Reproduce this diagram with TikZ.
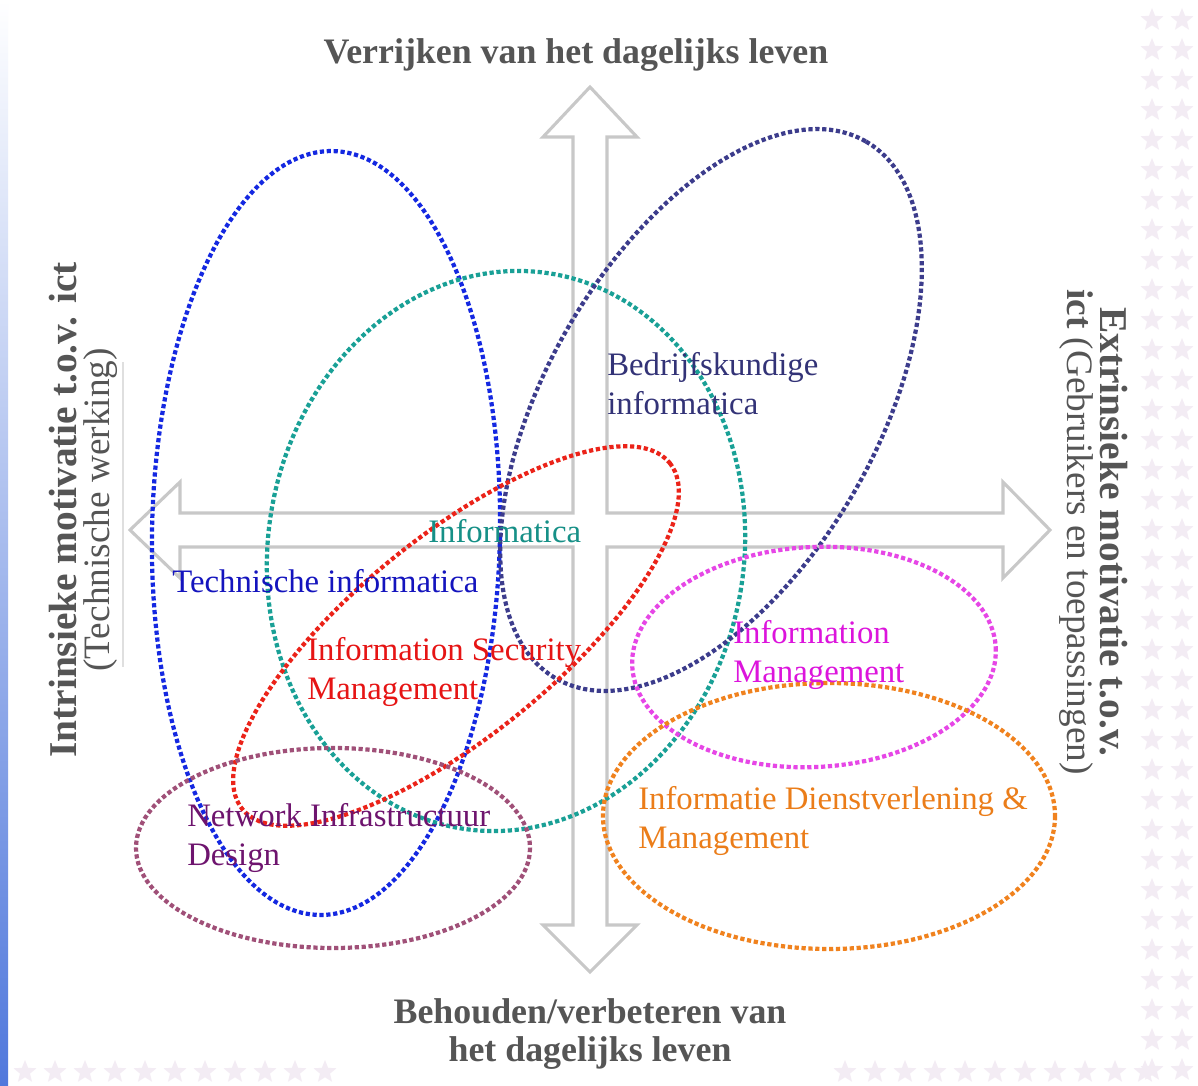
\documentclass[tikz,border=0pt]{standalone}
\usepackage{fontspec}
\setmainfont{Liberation Serif}
\usepackage{tikz}
\usetikzlibrary{positioning,shapes.geometric}

\definecolor{titlegray}{RGB}{85,85,85}
\definecolor{crossgray}{RGB}{200,200,200}
\definecolor{techblue}{RGB}{20,40,225}
\definecolor{infteal}{RGB}{25,160,150}
\definecolor{bedrnavy}{RGB}{60,60,140}
\definecolor{ismred}{RGB}{235,35,25}
\definecolor{immagenta}{RGB}{230,70,230}
\definecolor{idmorange}{RGB}{240,130,30}
\definecolor{nidmaroon}{RGB}{160,80,120}
\definecolor{stripblue}{RGB}{80,120,220}
\definecolor{starpink}{RGB}{243,236,244}

\begin{document}
\begin{tikzpicture}[
  x=0.025cm, y=-0.025cm,
  ring/.style={line width=3pt, dash pattern=on 3pt off 1.9pt},
  lbl/.style={anchor=base west, align=left, inner sep=0pt, font=\fontsize{23.3}{27.6}\selectfont},
  heading/.style={text=titlegray, align=center, inner sep=0pt, font=\bfseries\fontsize{25.5}{27}\selectfont},
  side/.style={text=titlegray, align=center, inner sep=0pt, font=\fontsize{26.5}{23.5}\selectfont},
  cross/.style={draw=crossgray, line width=2.2pt, line join=miter, fill=white},
  deco/.style={star, star points=5, star point ratio=2.3, fill=starpink, minimum size=0.6cm, inner sep=0pt}
]

\useasboundingbox (0,0) rectangle (1198,1086);
\fill[white] (0,0) rectangle (1198,1086);
\shade[top color=white, bottom color=stripblue] (0,0) rectangle (8,1086);

% background stars
\foreach \j in {1,...,36}{
  \node[deco] (sr1-\j) at (1152,{\j*30-10}) {};
  \node[deco] (sr2-\j) at (1182,{\j*30-10}) {};
}
\foreach \i in {1,...,11}{
  \node[deco] (sb-\i) at ({\i*30-5},1072) {};
}
\foreach \i in {28,...,38}{
  \node[deco] (sc-\i) at ({\i*30+5},1072) {};
}

% ======================================================
% =============== AXES =================================
% ======================================================
\draw[cross] (590,87) -- (637,137) -- (607,137) -- (607,513) -- (1003,513)
  -- (1003,482) -- (1050,530) -- (1003,578) -- (1003,547) -- (607,547)
  -- (607,925) -- (637,925) -- (590,972) -- (543,925) -- (573,925)
  -- (573,547) -- (180,547) -- (180,578) -- (130,530) -- (180,482)
  -- (180,513) -- (573,513) -- (573,137) -- (543,137) -- cycle;

\draw[gray!25, line width=0.8pt] (123,362) -- (123,667);

\node[heading] (top) at (576,55) {Verrijken van het dagelijks leven};
\node[heading] (bottom) at (590,1034) {Behouden/verbeteren van\\het dagelijks leven};

\node[side, rotate=90] (left) at (83,510)
  {{\bfseries\fontsize{28}{23.5}\selectfont Intrinsieke motivatie t.o.v. ict}\\(Technische werking)};
\node[side, rotate=-90] (right) at (1094,532)
  {{\bfseries\fontsize{28}{23.5}\selectfont Extrinsieke motivatie t.o.v.}\\\textbf{ict} (Gebruikers en toepassingen)};

% ======================================================
% =============== FIELDS ===============================
% ======================================================
\draw[ring, techblue] (326,533) ellipse [x radius=174, y radius=382, rotate=-1];
\draw[ring, infteal] (506,551) ellipse [x radius=238, y radius=281, rotate=-9];
\draw[ring, bedrnavy] (711,410) ellipse [x radius=310, y radius=165, rotate=60];
\draw[ring, ismred] (456,636) ellipse [x radius=275, y radius=100, rotate=39];
\draw[ring, immagenta] (814,657) ellipse [x radius=182, y radius=110, rotate=3];
\draw[ring, idmorange] (829,816) ellipse [x radius=226, y radius=133];
\draw[ring, nidmaroon] (333,848) ellipse [x radius=197, y radius=100];

% labels (anchored on the baseline of the last line)
\node[lbl, text=bedrnavy!85!black] (bedr) at (607,414) {Bedrijfskundige\\informatica};
\node[lbl, text=infteal!90!black] (inf) at (428,542) {Informatica};
\node[lbl, text={rgb,255:red,20;green,20;blue,190}] (tech) at (172,592) {Technische informatica};
\node[lbl, text={rgb,255:red,230;green,20;blue,20}] (ism) at (307,699) {Information Security\\Management};
\node[lbl, text={rgb,255:red,220;green,20;blue,220}] (im) at (733,682) {Information\\Management};
\node[lbl, text={rgb,255:red,110;green,20;blue,110}] (nid) at (187,865) {Network Infrastructuur\\Design};
\node[lbl, text={rgb,255:red,235;green,125;blue,25}] (idm) at (638,848) {Informatie Dienstverlening \&\\Management};

\end{tikzpicture}
\end{document}
